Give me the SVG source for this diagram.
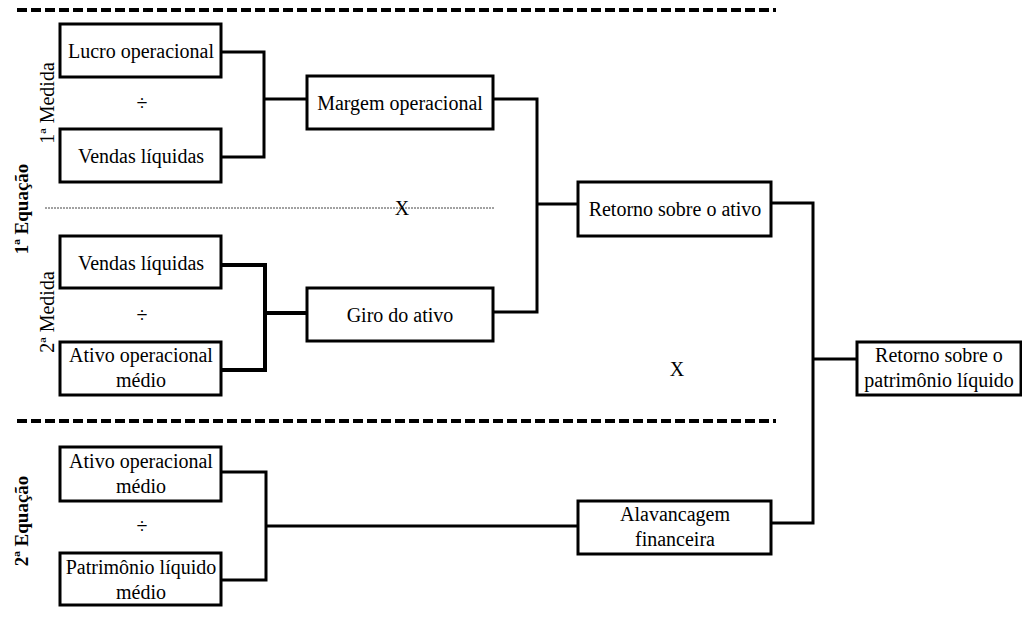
<svg xmlns="http://www.w3.org/2000/svg" width="1022" height="623" viewBox="0 0 1022 623">
  <style>
    .box { fill: #fff; stroke: #000; stroke-width: 3; }
    text { font-family: "Liberation Serif", "Times New Roman", "DejaVu Serif", serif; fill: #000; text-anchor: middle; }
    .lbl { font-size: 20px; }
    .side { font-size: 20px; }
    .sideb { font-size: 19px; font-weight: bold; }
    .wire { fill: none; stroke: #000; stroke-width: 3; }
    .wire-heavy { fill: none; stroke: #000; stroke-width: 4; }
    .sep { stroke: #000; stroke-width: 4; stroke-dasharray: 10 4; }
    .sep-thin { stroke: #444; stroke-width: 1; stroke-dasharray: 2 1; }
  </style>
  <rect width="1022" height="623" fill="#fff"/>

  <!-- section separators -->
  <g id="separators">
    <line class="sep" x1="17" y1="10" x2="776" y2="10"/>
    <line class="sep" x1="17" y1="421" x2="776" y2="421"/>
    <line class="sep-thin" x1="45" y1="208" x2="494" y2="208"/>
  </g>

  <!-- side labels -->
  <g id="side-labels">
    <text class="sideb" transform="translate(28,209) rotate(-90)">1ª Equação</text>
    <text class="sideb" transform="translate(28,521) rotate(-90)">2ª Equação</text>
    <text class="side" transform="translate(54,103) rotate(-90)">1ª Medida</text>
    <text class="side" transform="translate(54,312) rotate(-90)">2ª Medida</text>
  </g>

  <!-- connectors -->
  <g id="connectors">
    <polyline class="wire" points="221,52 264,52 264,157 221,157"/>
    <line class="wire" x1="264" y1="99" x2="307" y2="99"/>
    <polyline class="wire-heavy" points="221,265 265,265 265,370 221,370"/>
    <line class="wire-heavy" x1="265" y1="313" x2="307" y2="313"/>
    <polyline class="wire" points="493,99 537,99 537,312 493,312"/>
    <line class="wire" x1="537" y1="204" x2="578" y2="204"/>
    <polyline class="wire" points="221,472 266,472 266,580 221,580"/>
    <line class="wire" x1="266" y1="526" x2="578" y2="526"/>
    <polyline class="wire" points="771,203 813,203 813,523 771,523"/>
    <line class="wire" x1="813" y1="359" x2="857" y2="359"/>
  </g>

  <!-- operators -->
  <g id="operators">
    <text class="lbl" x="142" y="110">÷</text>
    <text class="lbl" x="142" y="322">÷</text>
    <text class="lbl" x="142" y="533">÷</text>
    <text class="lbl" x="402" y="215">X</text>
    <text class="lbl" x="677" y="376">X</text>
  </g>

  <g id="lucro-operacional">
    <rect class="box" x="60" y="24" width="161" height="53"/>
    <text class="lbl" x="141" y="58">Lucro operacional</text>
  </g>
  <g id="vendas-liquidas-1">
    <rect class="box" x="60" y="129" width="161" height="53"/>
    <text class="lbl" x="141" y="163">Vendas líquidas</text>
  </g>
  <g id="vendas-liquidas-2">
    <rect class="box" x="60" y="236" width="161" height="52"/>
    <text class="lbl" x="141" y="270">Vendas líquidas</text>
  </g>
  <g id="ativo-operacional-1">
    <rect class="box" x="60" y="342" width="161" height="53"/>
    <text class="lbl" x="141" y="362">Ativo operacional</text>
    <text class="lbl" x="141" y="387">médio</text>
  </g>
  <g id="ativo-operacional-2">
    <rect class="box" x="60" y="447" width="161" height="54"/>
    <text class="lbl" x="141" y="468">Ativo operacional</text>
    <text class="lbl" x="141" y="493">médio</text>
  </g>
  <g id="patrimonio-liquido">
    <rect class="box" x="60" y="553" width="161" height="52"/>
    <text class="lbl" x="141" y="574">Patrimônio líquido</text>
    <text class="lbl" x="141" y="599">médio</text>
  </g>
  <g id="margem-operacional">
    <rect class="box" x="307" y="76" width="186" height="53"/>
    <text class="lbl" x="400" y="110">Margem operacional</text>
  </g>
  <g id="giro-do-ativo">
    <rect class="box" x="307" y="288" width="186" height="53"/>
    <text class="lbl" x="400" y="322">Giro do ativo</text>
  </g>
  <g id="retorno-ativo">
    <rect class="box" x="578" y="182" width="193" height="54"/>
    <text class="lbl" x="675" y="216">Retorno sobre o ativo</text>
  </g>
  <g id="alavancagem">
    <rect class="box" x="578" y="501" width="193" height="53"/>
    <text class="lbl" x="675" y="521">Alavancagem</text>
    <text class="lbl" x="675" y="546">financeira</text>
  </g>
  <g id="retorno-pl">
    <rect class="box" x="857" y="342" width="164" height="53"/>
    <text class="lbl" x="939" y="362">Retorno sobre o</text>
    <text class="lbl" x="939" y="387">patrimônio líquido</text>
  </g>
</svg>
